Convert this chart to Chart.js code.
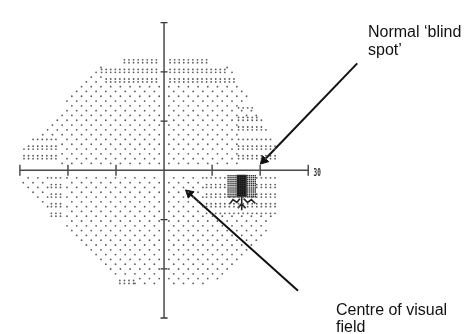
<!DOCTYPE html>
<html><head><meta charset="utf-8">
<script src="https://cdn.jsdelivr.net/npm/chart.js@4/dist/chart.umd.min.js"></script>
<style>html,body{margin:0;padding:0;background:#fff;overflow:hidden}#wrap{position:relative;width:465px;height:334px}</style>
</head><body><div id="wrap"><canvas id="c" width="465" height="334"></canvas></div>
<script>
// ---- data (degrees of visual field) ----
const axisTicks = [-30, -20, -10, 10, 20, 30];
const axisEnd = 30;
const axisLabel = '30';
// outline of the tested / printed field
const fieldOutline = [[-8.9,23.3],[9.1,23.3],[9.1,21.5],[13.3,21.2],[15.8,18.0],[17.8,14.7],[23.2,5.0],[23.2,-9.3],[21.4,-12.6],[15.8,-19.0],[9.7,-23.1],[-9.3,-23.1],[-29.5,-4.2],[-29.5,4.4],[-13.5,21.2],[-8.9,21.5]];
// darker (denser dot) grey-scale areas: [xMin, xMax, yMin, yMax]
const densePatches = [
  [-13.1, 13.1, 19.6, 23.3],
  [-12.5, 14.7, 17.4, 19.0],
  [15.2, 20.2, 12.2, 13.7],
  [15.2, 21.4, 6.9, 10.8],
  [15.2, 23.2, 0.9, 6.7],
  [-29.7, -21.6, 0.9, 6.7],
  [-24.2, -20.6, -10.6, -0.9],
  [8.7, 23.2, -9.3, -0.9],
  [-9.5, -6.1, -23.3, -21.3]
];
// physiological blind spot
const blindSpotGrey = [13.33, 18.99, -5.36, -0.88];
const blindSpotBlack = [[16.16, -0.88], [16.16, -5.36]];
const blindSpotMarks = [
  [[13.74,-6.73],[14.34,-5.95],[15.15,-6.53],[15.76,-5.75]],
  [[16.16,-5.36],[16.16,-8.09]],
  [[15.35,-7.70],[16.16,-6.73],[16.97,-7.70]],
  [[16.57,-5.75],[17.37,-6.53],[18.18,-5.95],[18.99,-6.73]]
];
// annotation arrows: [tail, head]
const arrowBlindSpot = [[40.2, 21.73], [20.77, 2.01]];
const arrowCentre = [[27.88, -24.46], [5.25, -4.66]];
const labelBlindSpot = ['Normal \u2018blind', 'spot\u2019'];
const labelCentre = ['Centre of visual', 'field'];

// ---- view / texture constants ----
const XMIN = -32.727, XMAX = 61.212, YMIN = -31.871, YMAX = 33.236;
const BASE_DX = 2.02, BASE_DY = 0.975, ROW0 = -1.52;
const DENSE_DX = 0.95, DENSE_PAIR = 1.95, DENSE_GAP = 0.585;
const AXIS_GAP_Y = 1.2, AXIS_GAP_X = 0.8;

function inPoly(x, y, poly) {
  let inside = false;
  for (let i = 0, j = poly.length - 1; i < poly.length; j = i++) {
    const xi = poly[i][0], yi = poly[i][1], xj = poly[j][0], yj = poly[j][1];
    if (((yi > y) !== (yj > y)) && (x < (xj - xi) * (y - yi) / (yj - yi) + xi)) inside = !inside;
  }
  return inside;
}
const inRect = (x, y, r) => x >= r[0] && x <= r[1] && y >= r[2] && y <= r[3];
const okPos = (x, y) => Math.abs(x) >= AXIS_GAP_X && Math.abs(y) >= AXIS_GAP_Y && inPoly(x, y, fieldOutline) && !inRect(x, y, blindSpotGrey);

const baseDots = [], denseDots = [], greyDots = [];
for (let k = -30; k <= 30; k++) {
  const y = ROW0 + k * BASE_DY;
  const off = (k & 1) ? BASE_DX / 2 : 0;
  for (let j = -20; j <= 20; j++) {
    const x = off + j * BASE_DX;
    if (!okPos(x, y)) continue;
    if (densePatches.some(r => inRect(x, y, r))) continue;
    baseDots.push({x, y});
  }
}
for (let m = -15; m <= 15; m++) {
  for (const g of [0, DENSE_GAP]) {
    const y = ROW0 + m * DENSE_PAIR + g;
    for (let j = -40; j <= 40; j++) {
      const x = 0.3 + j * DENSE_DX;
      if (!okPos(x, y)) continue;
      if (!densePatches.some(r => inRect(x, y, r))) continue;
      denseDots.push({x, y});
    }
  }
}
for (let x = blindSpotGrey[0]; x <= blindSpotGrey[1]; x += 0.404) {
  for (let y = blindSpotGrey[2]; y <= blindSpotGrey[3]; y += 0.39) greyDots.push({x, y});
}

const pts = a => a.map(p => ({x: p[0], y: p[1]}));
const marksData = [];
blindSpotMarks.forEach((s, i) => { if (i) marksData.push({x: null, y: null}); s.forEach(p => marksData.push({x: p[0], y: p[1]})); });

const AX = '#4a4a4a';
const datasets = [
  {data: baseDots, pointRadius: 0.9, pointBackgroundColor: '#5a5a5a', pointBorderWidth: 0},
  {data: denseDots, pointRadius: 0.9, pointBackgroundColor: '#5a5a5a', pointBorderWidth: 0},
  {data: greyDots, pointStyle: 'rect', pointRadius: 1.0, pointBackgroundColor: '#333', pointBorderWidth: 0},
  {data: pts(blindSpotBlack), showLine: true, borderColor: '#111', borderWidth: 10, borderCapStyle: 'butt', pointRadius: 0},
  {data: marksData, showLine: true, spanGaps: false, borderColor: '#222', borderWidth: 1.6, pointRadius: 0},
  {data: [{x: -axisEnd, y: 0}, {x: axisEnd, y: 0}], showLine: true, borderColor: AX, borderWidth: 1.5, pointRadius: 0},
  {data: [{x: 0, y: axisEnd}, {x: 0, y: -axisEnd}], showLine: true, borderColor: AX, borderWidth: 1.5, pointRadius: 0},
  {data: axisTicks.map(t => ({x: t, y: 0})), pointStyle: 'line', pointRotation: 90, pointRadius: 5.5, pointBorderColor: '#333', pointBorderWidth: 1.3},
  {data: axisTicks.map(t => ({x: 0, y: t})), pointStyle: 'line', pointRotation: 0, pointRadius: 3.5, pointBorderColor: '#333', pointBorderWidth: 1.3},
  {data: pts(arrowBlindSpot), showLine: true, borderColor: '#111', borderWidth: 2, pointStyle: 'triangle', pointRadius: [0, 5], pointRotation: [0, 223.6], pointBackgroundColor: '#111', pointBorderColor: '#111', pointBorderWidth: 1},
  {data: pts(arrowCentre), showLine: true, borderColor: '#111', borderWidth: 2, pointStyle: 'triangle', pointRadius: [0, 5], pointRotation: [0, 312.1], pointBackgroundColor: '#111', pointBorderColor: '#111', pointBorderWidth: 1}
];

const textPlugin = {
  id: 'labels',
  afterDraw(chart) {
    const c = chart.ctx, xs = chart.scales.x, ys = chart.scales.y;
    c.save();
    c.fillStyle = '#111';
    c.font = '16px "Liberation Sans", Arial, sans-serif';
    c.textBaseline = 'alphabetic';
    c.fillText(labelBlindSpot[0], 368, 37);
    c.fillText(labelBlindSpot[1], 368, 54.5);
    c.fillText(labelCentre[0], 336, 315);
    c.fillText(labelCentre[1], 336, 332);
    c.translate(xs.getPixelForValue(31.1), ys.getPixelForValue(0) + 3);
    c.scale(0.55, 1);
    c.fillStyle = '#333';
    c.font = 'bold 11px "DejaVu Sans Mono", monospace';
    c.textBaseline = 'middle';
    c.fillText(axisLabel, 0, 0);
    c.restore();
  }
};

new Chart(document.getElementById('c'), {
  type: 'scatter',
  data: {datasets},
  options: {
    responsive: false, animation: false, events: [],
    layout: {padding: 0},
    plugins: {legend: {display: false}, tooltip: {enabled: false}},
    scales: {
      x: {type: 'linear', min: XMIN, max: XMAX, display: false},
      y: {type: 'linear', min: YMIN, max: YMAX, display: false}
    }
  },
  plugins: [textPlugin]
});
</script></body></html>
